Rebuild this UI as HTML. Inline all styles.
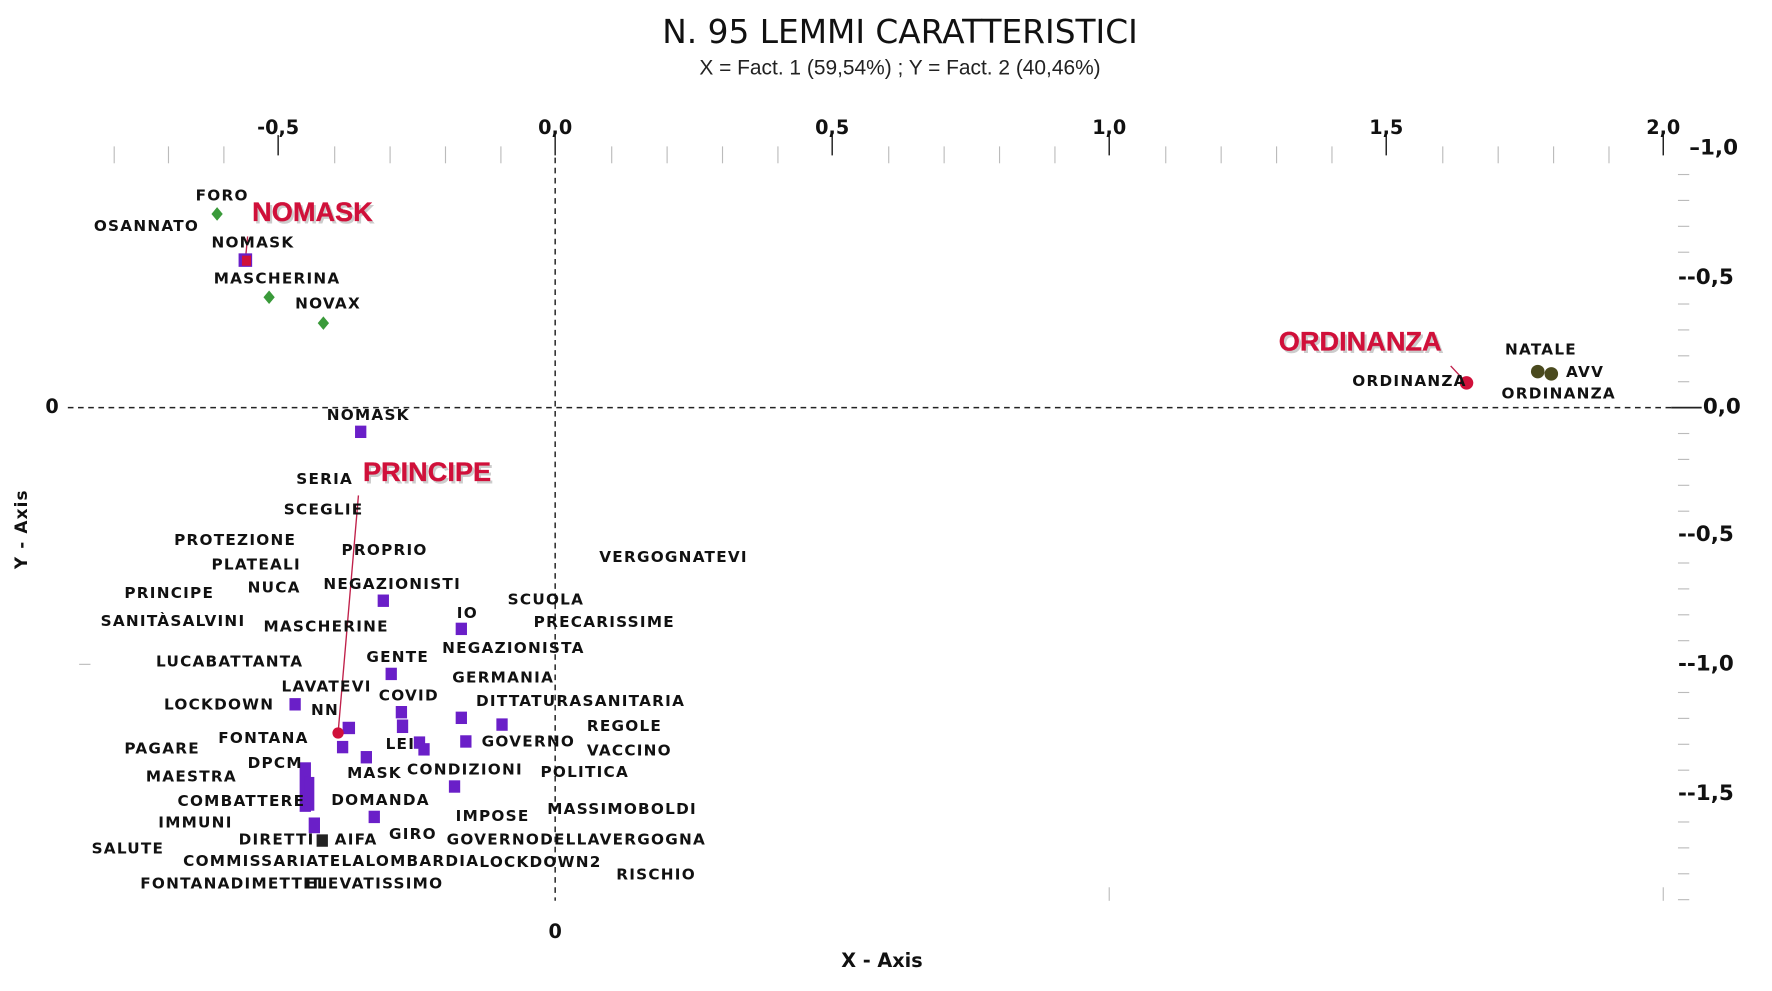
<!DOCTYPE html>
<html><head><meta charset="utf-8"><style>
html,body{margin:0;padding:0;background:#fff;width:1772px;height:991px;overflow:hidden}
svg{display:block}
.l{font-family:"DejaVu Sans","Liberation Sans",sans-serif;font-weight:bold;font-size:13.5px;letter-spacing:1.1px;fill:#111;dominant-baseline:middle}
.r{font-family:"Liberation Sans",sans-serif;font-weight:bold;font-size:24px;fill:#d0103a;dominant-baseline:middle;stroke:#d0103a;stroke-width:0.3}
.rs{font-family:"Liberation Sans",sans-serif;font-weight:bold;font-size:24px;fill:#ccc;dominant-baseline:middle}
.t{font-family:"DejaVu Sans","Liberation Sans",sans-serif;font-weight:bold;font-size:17px;fill:#111}
.p{fill:#6a1fc8}
</style></head><body>
<svg width="1772" height="991" viewBox="0 0 1772 991">
<g transform="scale(1.1307,1.126)">
<text x="796" y="38" text-anchor="middle" font-family="DejaVu Sans,Liberation Sans,sans-serif" font-size="29" fill="#111">N. 95 LEMMI CARATTERISTICI</text>
<text x="796" y="66" text-anchor="middle" font-family="Liberation Sans,sans-serif" font-size="18.5" fill="#222">X = Fact. 1 (59,54%) ; Y = Fact. 2 (40,46%)</text>
<g stroke="#bbb" stroke-width="1">
<line x1="101" y1="130" x2="101" y2="145"/><line x1="149" y1="130" x2="149" y2="145"/><line x1="198" y1="130" x2="198" y2="145"/><line x1="296" y1="130" x2="296" y2="145"/><line x1="345" y1="130" x2="345" y2="145"/><line x1="394" y1="130" x2="394" y2="145"/><line x1="443" y1="130" x2="443" y2="145"/><line x1="541" y1="130" x2="541" y2="145"/><line x1="590" y1="130" x2="590" y2="145"/><line x1="639" y1="130" x2="639" y2="145"/><line x1="688" y1="130" x2="688" y2="145"/><line x1="786" y1="130" x2="786" y2="145"/><line x1="835" y1="130" x2="835" y2="145"/><line x1="884" y1="130" x2="884" y2="145"/><line x1="933" y1="130" x2="933" y2="145"/><line x1="1031" y1="130" x2="1031" y2="145"/><line x1="1080" y1="130" x2="1080" y2="145"/><line x1="1129" y1="130" x2="1129" y2="145"/><line x1="1178" y1="130" x2="1178" y2="145"/><line x1="1276" y1="130" x2="1276" y2="145"/><line x1="1325" y1="130" x2="1325" y2="145"/><line x1="1374" y1="130" x2="1374" y2="145"/><line x1="1423" y1="130" x2="1423" y2="145"/>
<line x1="981" y1="788" x2="981" y2="800"/><line x1="1471" y1="788" x2="1471" y2="800"/><line x1="70" y1="590" x2="80" y2="590"/>
</g>
<g stroke="#222" stroke-width="1.3">
<line x1="246" y1="120" x2="246" y2="138"/><line x1="491" y1="120" x2="491" y2="138"/><line x1="736" y1="120" x2="736" y2="138"/><line x1="981" y1="120" x2="981" y2="138"/><line x1="1226" y1="120" x2="1226" y2="138"/><line x1="1471" y1="120" x2="1471" y2="138"/>
</g>
<g class="t" text-anchor="middle">
<text x="246" y="119">-0,5</text><text x="491" y="119">0,0</text><text x="736" y="119">0,5</text><text x="981" y="119">1,0</text><text x="1226" y="119">1,5</text><text x="1471" y="119">2,0</text>
</g>
<g stroke="#bbb"><line x1="1484" y1="155" x2="1494" y2="155"/><line x1="1484" y1="178" x2="1494" y2="178"/><line x1="1484" y1="201" x2="1494" y2="201"/><line x1="1484" y1="224" x2="1494" y2="224"/><line x1="1484" y1="270" x2="1494" y2="270"/><line x1="1484" y1="293" x2="1494" y2="293"/><line x1="1484" y1="316" x2="1494" y2="316"/><line x1="1484" y1="339" x2="1494" y2="339"/><line x1="1484" y1="385" x2="1494" y2="385"/><line x1="1484" y1="408" x2="1494" y2="408"/><line x1="1484" y1="431" x2="1494" y2="431"/><line x1="1484" y1="454" x2="1494" y2="454"/><line x1="1484" y1="500" x2="1494" y2="500"/><line x1="1484" y1="523" x2="1494" y2="523"/><line x1="1484" y1="546" x2="1494" y2="546"/><line x1="1484" y1="569" x2="1494" y2="569"/><line x1="1484" y1="615" x2="1494" y2="615"/><line x1="1484" y1="638" x2="1494" y2="638"/><line x1="1484" y1="661" x2="1494" y2="661"/><line x1="1484" y1="684" x2="1494" y2="684"/><line x1="1484" y1="730" x2="1494" y2="730"/><line x1="1484" y1="753" x2="1494" y2="753"/><line x1="1484" y1="776" x2="1494" y2="776"/><line x1="1484" y1="799" x2="1494" y2="799"/></g>
<g class="t" style="dominant-baseline:middle;font-size:19px">
<text x="1494" y="132">–1,0</text><text x="1484" y="247">--0,5</text><text x="1506" y="362">0,0</text><text x="1484" y="475">--0,5</text><text x="1484" y="590">--1,0</text><text x="1484" y="705">--1,5</text>
</g>
<line x1="1478" y1="362" x2="1505" y2="362" stroke="#222" stroke-width="1.5"/>
<line x1="60" y1="362" x2="1478" y2="362" stroke="#222" stroke-width="1.3" stroke-dasharray="5,4"/>
<line x1="491" y1="140" x2="491" y2="800" stroke="#222" stroke-width="1.3" stroke-dasharray="5,4"/>
<text x="46" y="362" class="t" text-anchor="middle" style="dominant-baseline:middle">0</text>
<text x="491" y="833" class="t" text-anchor="middle">0</text>
<text x="780" y="859" class="t" text-anchor="middle">X - Axis</text>
<text transform="translate(24,470) rotate(-90)" class="t" text-anchor="middle" style="font-size:15px;letter-spacing:1px">Y - Axis</text>
<line x1="219" y1="210" x2="217" y2="231" stroke="#c0204a" stroke-width="1.2"/>
<line x1="317" y1="440" x2="299" y2="651" stroke="#c0204a" stroke-width="1.2"/>
<line x1="1283" y1="325" x2="1297" y2="340" stroke="#c0204a" stroke-width="1.2"/>
<g fill="#3a9a3a"><path d="M192 184 L197 190 L192 196 L187 190Z"/><path d="M238 258 L243 264 L238 270 L233 264Z"/><path d="M286 281 L291 287 L286 293 L281 287Z"/></g>
<rect x="211" y="225" width="12" height="12" fill="#6a1fc8"/><rect x="214" y="227" width="8" height="9" fill="#d0103a"/>
<g class="p">
<rect x="314" y="378" width="10" height="11"/><rect x="334" y="528" width="10" height="11"/><rect x="403" y="553" width="10" height="11"/><rect x="341" y="593" width="10" height="11"/><rect x="256" y="620" width="10" height="11"/><rect x="303" y="641" width="11" height="11"/><rect x="350" y="627" width="10" height="11"/><rect x="351" y="639" width="10" height="12"/><rect x="403" y="632" width="10" height="11"/><rect x="439" y="638" width="10" height="11"/><rect x="407" y="653" width="10" height="11"/><rect x="298" y="658" width="10" height="11"/><rect x="319" y="667" width="10" height="11"/><rect x="366" y="654" width="10" height="11"/><rect x="370" y="660" width="10" height="11"/><rect x="397" y="693" width="10" height="11"/><rect x="326" y="720" width="10" height="11"/><rect x="265" y="677" width="10" height="44"/><rect x="269" y="690" width="9" height="30"/><rect x="273" y="726" width="10" height="14"/>
</g>
<rect x="280" y="741" width="10" height="11" fill="#222"/>
<circle cx="299" cy="651" r="5" fill="#d0103a"/>
<circle cx="1297" cy="340" r="6" fill="#d0103a"/>
<circle cx="1360" cy="330" r="6" fill="#4a4a1e"/><circle cx="1372" cy="332" r="6" fill="#4a4a1e"/>
<text x="225" y="192" class="rs">NOMASK</text><text x="223" y="190" class="r">NOMASK</text>
<text x="323" y="423" class="rs">PRINCIPE</text><text x="321" y="421" class="r">PRINCIPE</text>
<text x="1133" y="307" class="rs">ORDINANZA</text><text x="1131" y="305" class="r">ORDINANZA</text>
<g class="l">
<text x="173" y="174">FORO</text><text x="83" y="201">OSANNATO</text><text x="187" y="216">NOMASK</text><text x="189" y="248">MASCHERINA</text><text x="261" y="270">NOVAX</text>
<text x="289" y="369">NOMASK</text><text x="262" y="426">SERIA</text><text x="251" y="453">SCEGLIE</text><text x="154" y="480">PROTEZIONE</text><text x="302" y="489">PROPRIO</text><text x="187" y="502">PLATEALI</text><text x="530" y="495">VERGOGNATEVI</text><text x="110" y="527">PRINCIPE</text><text x="219" y="522">NUCA</text><text x="286" y="519">NEGAZIONISTI</text><text x="449" y="533">SCUOLA</text><text x="89" y="552">SANITÀSALVINI</text><text x="233" y="557">MASCHERINE</text><text x="404" y="545">IO</text><text x="472" y="553">PRECARISSIME</text><text x="391" y="576">NEGAZIONISTA</text><text x="138" y="588">LUCABATTANTA</text><text x="324" y="584">GENTE</text><text x="400" y="602">GERMANIA</text><text x="249" y="610">LAVATEVI</text><text x="335" y="618">COVID</text><text x="421" y="623">DITTATURASANITARIA</text><text x="145" y="626">LOCKDOWN</text><text x="275" y="631">NN</text><text x="519" y="645">REGOLE</text><text x="193" y="656">FONTANA</text><text x="426" y="659">GOVERNO</text><text x="341" y="661">LEI</text><text x="110" y="665">PAGARE</text><text x="519" y="667">VACCINO</text><text x="219" y="678">DPCM</text><text x="307" y="687">MASK</text><text x="360" y="684">CONDIZIONI</text><text x="478" y="686">POLITICA</text><text x="129" y="690">MAESTRA</text><text x="157" y="712">COMBATTERE</text><text x="293" y="711">DOMANDA</text><text x="484" y="719">MASSIMOBOLDI</text><text x="403" y="725">IMPOSE</text><text x="140" y="731">IMMUNI</text><text x="211" y="746">DIRETTI</text><text x="296" y="746">AIFA</text><text x="344" y="741">GIRO</text><text x="395" y="746">GOVERNODELLAVERGOGNA</text><text x="81" y="754">SALUTE</text><text x="162" y="765">COMMISSARIATELALOMBARDIA</text><text x="424" y="766">LOCKDOWN2</text><text x="545" y="777">RISCHIO</text><text x="124" y="785">FONTANADIMETTITI</text><text x="270" y="785">ELEVATISSIMO</text>
<text x="1196" y="339">ORDINANZA</text><text x="1331" y="311">NATALE</text><text x="1385" y="331">AVV</text><text x="1328" y="350">ORDINANZA</text>
</g>
</g>
</svg>
</body></html>
